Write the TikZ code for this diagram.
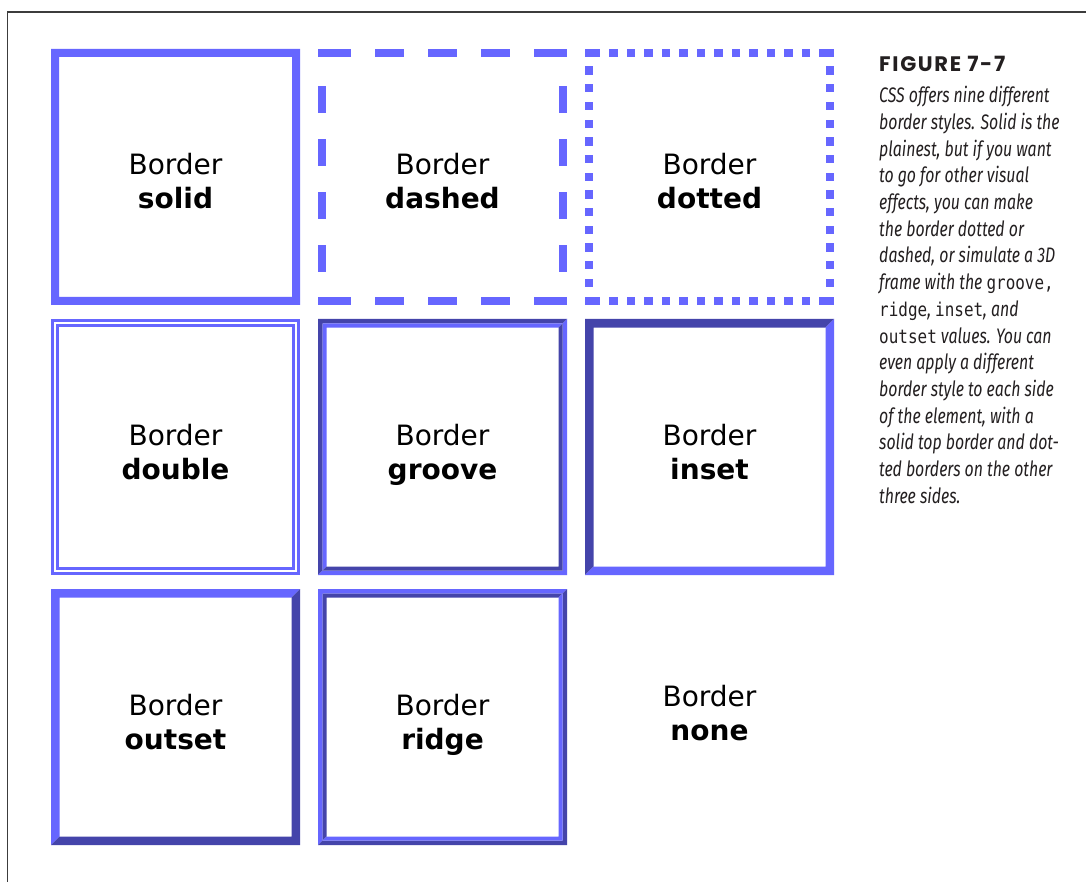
\documentclass[tikz,border=0pt]{standalone}
\usepackage{fontspec}
\newfontfamily\boxfont{DejaVu Sans}
\newfontfamily\capfont[FakeStretch=0.755]{Fira Sans}
\newfontfamily\capmono[FakeStretch=0.84]{DejaVu Sans Mono}
\newfontfamily\figfont[LetterSpace=8]{Poppins}
\definecolor{lite}{RGB}{102,102,255}
\definecolor{dark}{RGB}{68,68,170}
\definecolor{captxt}{RGB}{35,31,32}
\definecolor{framecol}{RGB}{60,60,60}
% 3D band: x1 y1 x2 y2 width topleftcolor bottomrightcolor
\newcommand\bevelband[7]{%
  \fill[#6] (#1,#2) -- (#3,#2) -- ({#3-#5},{#2+#5}) -- ({#1+#5},{#2+#5}) -- ({#1+#5},{#4-#5}) -- (#1,#4) -- cycle;
  \fill[#7] (#3,#2) -- (#3,#4) -- (#1,#4) -- ({#1+#5},{#4-#5}) -- ({#3-#5},{#4-#5}) -- ({#3-#5},{#2+#5}) -- cycle;}
\tikzset{
  lbl/.style={font=\boxfont\fontsize{28}{34}\selectfont, anchor=base, inner sep=0pt, text=black},
  lblb/.style={lbl, font=\boxfont\bfseries\fontsize{28}{34}\selectfont},
  capline/.style={anchor=base west, inner sep=0pt, text=captxt, font=\capfont\itshape\fontsize{21}{26}\selectfont},
}
\newcommand\mw[1]{{\capmono\upshape\fontsize{19}{26}\selectfont #1}}
\begin{document}
\begin{tikzpicture}[x=1pt,y=-1pt]
\useasboundingbox (0,0) rectangle (1086,882);
\fill[white] (0,0) rectangle (1086,882);
% page frame
\draw[framecol, line width=1.3pt] (7.5,882) -- (7.5,12) -- (1086,12);

% ---- row 1 ----
% solid
\fill[lite, even odd rule] (51,49) rectangle (300,305) (59,57) rectangle (292,297);
% dashed
\foreach \a/\b in {318/351,375/404,428/457,481/510,534/567}{
  \fill[lite] (\a,49) rectangle (\b,57);
  \fill[lite] (\a,297) rectangle (\b,305);}
\foreach \a/\b in {86/113,139/166,192/219,245/272}{
  \fill[lite] (318,\a) rectangle (326,\b);
  \fill[lite] (559,\a) rectangle (567,\b);}
% dotted
\fill[lite] (585,49) rectangle (600,57);
\fill[lite] (819,49) rectangle (834,57);
\fill[lite] (585,297) rectangle (600,305);
\fill[lite] (819,297) rectangle (834,305);
\foreach \k in {0,...,11}{
  \fill[lite] ({609+17.5*\k},49) rectangle ({617.5+17.5*\k},57);
  \fill[lite] ({609+17.5*\k},297) rectangle ({617.5+17.5*\k},305);}
\foreach \k in {0,...,12}{
  \fill[lite] (585,{66.5+17.7*\k}) rectangle (593,{74.8+17.7*\k});
  \fill[lite] (826,{66.5+17.7*\k}) rectangle (834,{74.8+17.7*\k});}

% ---- row 2 ----
% double
\draw[lite, line width=3pt] (52.5,320.5) rectangle (298.5,573.5);
\draw[lite, line width=3pt] (57.5,325.5) rectangle (293.5,568.5);
% groove
\bevelband{318}{319}{567}{575}{4.5}{dark}{lite}
\bevelband{322.5}{323.5}{562.5}{570.5}{4}{lite}{dark}
% inset
\bevelband{585}{319}{834}{575}{8.5}{dark}{lite}

% ---- row 3 ----
% outset
\bevelband{51}{589}{300}{845}{8.5}{lite}{dark}
% ridge
\bevelband{318}{589}{567}{845}{4.5}{lite}{dark}
\bevelband{322.5}{593.5}{562.5}{840.5}{4}{dark}{lite}

% ---- labels ----
\node[lbl]  (b1) at (175.5,175) {Border};
\node[lblb] (s1) at (175.5,209) {solid};
\node[lbl]  (b2) at (442.5,175) {Border};
\node[lblb] (s2) at (442.5,209) {dashed};
\node[lbl]  (b3) at (709.5,175) {Border};
\node[lblb] (s3) at (709.5,209) {dotted};
\node[lbl]  (b4) at (175.5,445) {Border};
\node[lblb] (s4) at (175.5,479) {double};
\node[lbl]  (b5) at (442.5,445) {Border};
\node[lblb] (s5) at (442.5,479) {groove};
\node[lbl]  (b6) at (709.5,445) {Border};
\node[lblb] (s6) at (709.5,479) {inset};
\node[lbl]  (b7) at (175.5,715) {Border};
\node[lblb] (s7) at (175.5,749) {outset};
\node[lbl]  (b8) at (442.5,715) {Border};
\node[lblb] (s8) at (442.5,749) {ridge};
\node[lbl]  (b9) at (709.5,706) {Border};
\node[lblb] (s9) at (709.5,740) {none};

% ---- caption ----
\node[anchor=base west, inner sep=0pt, text=captxt, font=\figfont\bfseries\fontsize{21}{25}\selectfont] (fig) at (879,72) {FIGURE 7-7};
\node[capline] (c1)  at (879,103)    {CSS offers nine different};
\node[capline] (c2)  at (879,129.67) {border styles. Solid is the};
\node[capline] (c3)  at (879,156.33) {plainest, but if you want};
\node[capline] (c4)  at (879,183)    {to go for other visual};
\node[capline] (c5)  at (879,209.67) {effects, you can make};
\node[capline] (c6)  at (879,236.33) {the border dotted or};
\node[capline] (c7)  at (879,263)    {dashed, or simulate a 3D};
\node[capline] (c8)  at (879,289.67) {frame with the \mw{groove,}};
\node[capline] (c9)  at (879,316.33) {\mw{ridge}, \mw{inset}, and};
\node[capline] (c10) at (879,343)    {\mw{outset} values. You can};
\node[capline] (c11) at (879,369.67) {even apply a different};
\node[capline] (c12) at (879,396.33) {border style to each side};
\node[capline] (c13) at (879,423)    {of the element, with a};
\node[capline] (c14) at (879,449.67) {solid top border and dot-};
\node[capline] (c15) at (879,476.33) {ted borders on the other};
\node[capline] (c16) at (879,503)    {three sides.};
\end{tikzpicture}
\end{document}
